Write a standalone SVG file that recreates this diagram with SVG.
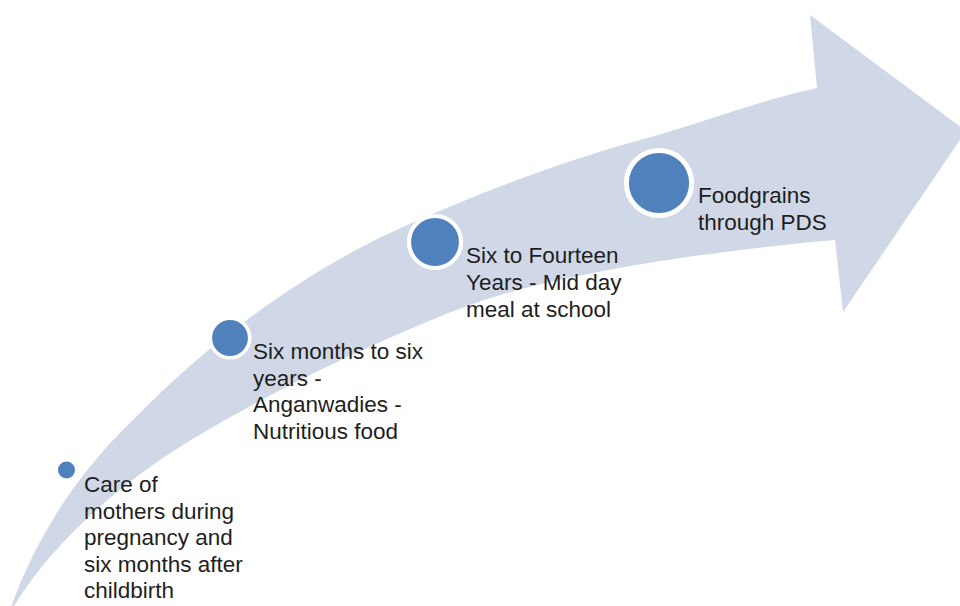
<svg xmlns="http://www.w3.org/2000/svg" width="960" height="606" viewBox="0 0 960 606">
<style>
.band{fill:#D0D8E7;stroke:none}
.dot{fill:#4F81BD;stroke:#FFFFFF}
.lbl{font-family:"Liberation Sans",Arial,sans-serif;font-size:22.5px;fill:#1E1E1E}
</style>
<rect width="960" height="606" fill="#FFFFFF"/>
<g id="arrow">
<path class="band" d="M8,616 C30,550 70,480 133,420 C205,345 300,275 390,233 C470,196 560,162 640,140 C700,124 760,100 817,88 L810,15 L966,131 L843,312 L835,240 C720,250 560,272 470,305 C380,338 230,410 150,467 C90,510 40,560 8,616 Z"/>
</g>
<g id="node1">
<circle class="dot" cx="66.5" cy="470" r="9.5" stroke-width="2"/>
<text class="lbl" x="84" y="492"><tspan x="84" y="492">Care of</tspan><tspan x="84" y="518.5">mothers during</tspan><tspan x="84" y="545">pregnancy and</tspan><tspan x="84" y="571.5">six months after</tspan><tspan x="84" y="598">childbirth</tspan></text>
</g>
<g id="node2">
<circle class="dot" cx="230" cy="338" r="19.7" stroke-width="3.6"/>
<text class="lbl" x="253" y="359"><tspan x="253" y="359">Six months to six</tspan><tspan x="253" y="385.7">years -</tspan><tspan x="253" y="412.4">Anganwadies -</tspan><tspan x="253" y="439">Nutritious food</tspan></text>
</g>
<g id="node3">
<circle class="dot" cx="435" cy="242" r="26" stroke-width="4.2"/>
<text class="lbl" x="466" y="263.3"><tspan x="466" y="263.3">Six to Fourteen</tspan><tspan x="466" y="290">Years - Mid day</tspan><tspan x="466" y="316.7">meal at school</tspan></text>
</g>
<g id="node4">
<circle class="dot" cx="659" cy="183" r="32.6" stroke-width="5"/>
<text class="lbl" x="698" y="203"><tspan x="698" y="203">Foodgrains</tspan><tspan x="698" y="230">through PDS</tspan></text>
</g>
<g id="connectors"/>
</svg>
